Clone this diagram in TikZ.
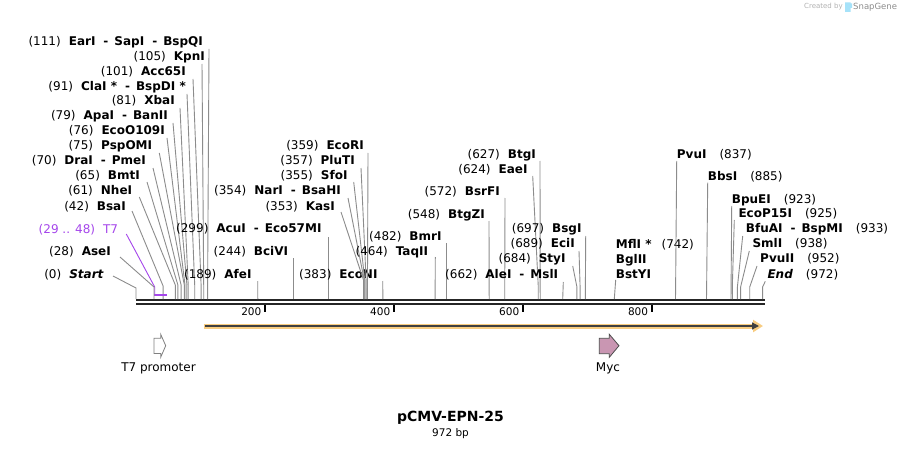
\documentclass[tikz,border=0pt]{standalone}
\usepackage{fontspec}
\setmainfont{DejaVu Sans}
\usetikzlibrary{arrows.meta}
\definecolor{leadgray}{RGB}{140,140,140}
\definecolor{tsevenpurple}{RGB}{165,70,235}
\definecolor{bandorange}{RGB}{248,204,128}
\definecolor{mycpink}{RGB}{201,150,178}
\newcommand{\dsh}{\hspace{8pt}-\hspace{6pt}}

\begin{document}
\begin{tikzpicture}[x=1pt, y=-1pt, enz/.style={inner sep=0pt, font=\fontsize{12}{15}\selectfont}, cut/.style={leadgray, line width=0.9pt, line join=round}]
	\useasboundingbox (0,0) rectangle (901,449);
	\fill[white] (0,0) rectangle (901,449);
	\node[anchor=west, inner sep=0pt, font=\fontsize{7}{8}\selectfont, black!30] (created) at (804,7) {Created by};
	\fill[cyan!35] (845,2.5) rectangle (850.5,12) (850.5,3.5) rectangle (852,8);
	\node[anchor=west, inner sep=0pt, font=\fontsize{8.5}{10}\selectfont, black!45] (snapgene) at (853,7) {SnapGene};
	\draw[line width=2pt, black!85] (136,300) -- (765,300);
	\draw[line width=2pt, black!85] (136,304) -- (765,304);
	\draw[line width=2pt] (264.9,305) -- (264.9,312);
	\node[anchor=east, inner sep=0pt, font=\fontsize{10.5}{12}\selectfont] (tick200) at (261.5,312) {200};
	\draw[line width=2pt] (393.8,305) -- (393.8,312);
	\node[anchor=east, inner sep=0pt, font=\fontsize{10.5}{12}\selectfont] (tick400) at (390.4,312) {400};
	\draw[line width=2pt] (522.8,305) -- (522.8,312);
	\node[anchor=east, inner sep=0pt, font=\fontsize{10.5}{12}\selectfont] (tick600) at (519.4,312) {600};
	\draw[line width=2pt] (651.7,305) -- (651.7,312);
	\node[anchor=east, inner sep=0pt, font=\fontsize{10.5}{12}\selectfont] (tick800) at (648.3,312) {800};
	\draw[bandorange, line width=5pt, -{Triangle[length=10pt,width=12pt]}] (204,326) -- (763,326);
	\draw[black!75, line width=1.3pt, -{Triangle[length=7pt,width=7pt]}] (205,326) -- (759,326);
	\draw[gray, fill=white, line width=0.8pt] (154,338.3) -- (160.7,338.3) -- (160.7,334.3) -- (165.7,345.7) -- (160.7,357.3) -- (160.7,353.5) -- (154,353.5) -- cycle;
	\node[font=\fontsize{12}{14}\selectfont] (t7prom) at (158.5,368) {T7 promoter};
	\draw[black!70, fill=mycpink, line width=0.8pt] (599.3,338.3) -- (609.3,338.3) -- (609.3,334.3) -- (619,345.7) -- (609.3,357.3) -- (609.3,353.7) -- (599.3,353.7) -- cycle;
	\node[font=\fontsize{12}{14}\selectfont] (myc) at (608,368) {Myc};
	\node[enz, anchor=east] (ear) at (203,42) {(111)\hspace{8pt}\textbf{EarI\dsh SapI\dsh BspQI}};
	\draw[cut] ([shift={(6,7)}]ear.east) -- (207.6,285) -- (207.6,299);
	\node[enz, anchor=east] (kpn) at (205,57) {(105)\hspace{8pt}\textbf{KpnI}};
	\draw[cut] ([shift={(-3,7)}]kpn.east) -- (203.7,285) -- (203.7,299);
	\node[enz, anchor=east] (acc) at (186,72) {(101)\hspace{8pt}\textbf{Acc65I}};
	\draw[cut] ([shift={(7,7)}]acc.east) -- (201.1,285) -- (201.1,299);
	\node[enz, anchor=east] (cla) at (186,87) {(91)\hspace{8pt}\textbf{ClaI *\dsh BspDI *}};
	\draw[cut] ([shift={(1,7)}]cla.east) -- (194.7,285) -- (194.7,299);
	\node[enz, anchor=east] (xba) at (175,101) {(81)\hspace{8pt}\textbf{XbaI}};
	\draw[cut] ([shift={(5,7)}]xba.east) -- (188.2,285) -- (188.2,299);
	\node[enz, anchor=east] (apa) at (168,116) {(79)\hspace{8pt}\textbf{ApaI\dsh BanII}};
	\draw[cut] ([shift={(5,7)}]apa.east) -- (186.9,285) -- (186.9,299);
	\node[enz, anchor=east] (ecoo) at (165,131) {(76)\hspace{8pt}\textbf{EcoO109I}};
	\draw[cut] ([shift={(2,7)}]ecoo.east) -- (185,285) -- (185,299);
	\node[enz, anchor=east] (psp) at (152.3,146) {(75)\hspace{8pt}\textbf{PspOMI}};
	\draw[cut] ([shift={(7,7)}]psp.east) -- (184.3,285) -- (184.3,299);
	\node[enz, anchor=east] (dra) at (146,161) {(70)\hspace{8pt}\textbf{DraI\dsh PmeI}};
	\draw[cut] ([shift={(7,7)}]dra.east) -- (181.1,285) -- (181.1,299);
	\node[enz, anchor=east] (bmt) at (140,176) {(65)\hspace{8pt}\textbf{BmtI}};
	\draw[cut] ([shift={(7,6)}]bmt.east) -- (177.9,285) -- (177.9,299);
	\node[enz, anchor=east] (nhe) at (132.3,191) {(61)\hspace{8pt}\textbf{NheI}};
	\draw[cut] ([shift={(7,6)}]nhe.east) -- (175.3,285) -- (175.3,299);
	\node[enz, anchor=east] (bsa) at (126,207) {(42)\hspace{8pt}\textbf{BsaI}};
	\draw[cut] ([shift={(6,4)}]bsa.east) -- (163.1,286) -- (163.1,299);
	\node[enz, anchor=east, tsevenpurple] (tseven) at (118.3,230) {(29 .. 48)\hspace{8pt}T7};
	\draw[tsevenpurple, line width=0.9pt] ([shift={(8,4)}]tseven.east) -- (154.7,287) -- (154.7,295);
	\draw[tsevenpurple, line width=2pt] (153.8,295) -- (166.9,295);
	\node[enz, anchor=east] (ase) at (111,252) {(28)\hspace{8pt}\textbf{AseI}};
	\draw[cut] ([shift={(9,5)}]ase.east) -- (154,287) -- (154,299);
	\node[enz, anchor=east] (st) at (104,275) {(0)\hspace{8pt}\textbf{\textit{Start}}};
	\draw[cut] ([shift={(9,1)}]st.east) -- (136,288) -- (136,299);
	\node[enz, anchor=east] (afe) at (251.7,275) {(189)\hspace{8pt}\textbf{AfeI}};
	\draw[cut] ([shift={(6,6)}]afe.east) -- (257.8,299);
	\node[enz, anchor=east] (bci) at (288.3,252) {(244)\hspace{8pt}\textbf{BciVI}};
	\draw[cut] ([shift={(5,6)}]bci.east) -- (293.3,299);
	\node[enz, anchor=east] (acu) at (321.7,229) {(299)\hspace{8pt}\textbf{AcuI\dsh Eco57MI}};
	\draw[cut] ([shift={(7,8)}]acu.east) -- (328.7,299);
	\node[enz, anchor=east] (econ) at (377.7,275) {(383)\hspace{8pt}\textbf{EcoNI}};
	\draw[cut] ([shift={(5,6)}]econ.east) -- (382.9,299);
	\node[enz, anchor=east] (kas) at (335,207) {(353)\hspace{8pt}\textbf{KasI}};
	\draw[cut] ([shift={(6,5)}]kas.east) -- (363.5,280) -- (363.5,299);
	\node[enz, anchor=east] (nar) at (341,191) {(354)\hspace{8pt}\textbf{NarI\dsh BsaHI}};
	\draw[cut] ([shift={(7,7)}]nar.east) -- (364.2,280) -- (364.2,299);
	\node[enz, anchor=east] (sfo) at (347.7,176) {(355)\hspace{8pt}\textbf{SfoI}};
	\draw[cut] ([shift={(6,6)}]sfo.east) -- (364.8,280) -- (364.8,299);
	\node[enz, anchor=east] (plu) at (355,161) {(357)\hspace{8pt}\textbf{PluTI}};
	\draw[cut] ([shift={(6,7)}]plu.east) -- (366.1,280) -- (366.1,299);
	\node[enz, anchor=east] (ecori) at (364,146) {(359)\hspace{8pt}\textbf{EcoRI}};
	\draw[cut] ([shift={(4,7)}]ecori.east) -- (367.4,299);
	\node[enz, anchor=east] (taq) at (428.3,252) {(464)\hspace{8pt}\textbf{TaqII}};
	\draw[cut] ([shift={(7,5)}]taq.east) -- (435.1,299);
	\node[enz, anchor=east] (bmr) at (441.7,237) {(482)\hspace{8pt}\textbf{BmrI}};
	\draw[cut] ([shift={(5,6)}]bmr.east) -- (446.7,299);
	\node[enz, anchor=east] (btgz) at (485,215) {(548)\hspace{8pt}\textbf{BtgZI}};
	\draw[cut] ([shift={(4,6)}]btgz.east) -- (489.2,299);
	\node[enz, anchor=east] (bsrf) at (500,192) {(572)\hspace{8pt}\textbf{BsrFI}};
	\draw[cut] ([shift={(5,6)}]bsrf.east) -- (504.7,299);
	\node[enz, anchor=east] (eae) at (527.7,170) {(624)\hspace{8pt}\textbf{EaeI}};
	\draw[cut] ([shift={(5,6)}]eae.east) -- (538.2,285) -- (538.2,299);
	\node[enz, anchor=east] (btg) at (536,155) {(627)\hspace{8pt}\textbf{BtgI}};
	\draw[cut] ([shift={(4,6)}]btg.east) -- (540.2,299);
	\node[enz, anchor=east] (ale) at (558.3,275) {(662)\hspace{8pt}\textbf{AleI\dsh MslI}};
	\draw[cut] ([shift={(5,7)}]ale.east) -- (562.7,299);
	\node[enz, anchor=east] (sty) at (565.7,259) {(684)\hspace{8pt}\textbf{StyI}};
	\draw[cut] ([shift={(7,7)}]sty.east) -- (576.9,287) -- (576.9,299);
	\node[enz, anchor=east] (eci) at (575,244) {(689)\hspace{8pt}\textbf{EciI}};
	\draw[cut] ([shift={(4,7)}]eci.east) -- (580.1,287) -- (580.1,299);
	\node[enz, anchor=east] (bsg) at (581.7,229) {(697)\hspace{8pt}\textbf{BsgI}};
	\draw[cut] ([shift={(4,7)}]bsg.east) -- (585.3,299);
	\node[enz, anchor=west, align=left] (mfl) at (615.7,259) {\textbf{MflI *}\hspace{10pt}(742)\\\textbf{BglII}\\\textbf{BstYI}};
	\draw[cut] ([shift={(0,1)}]mfl.south west) -- (614.3,299);
	\node[enz, anchor=west] (pvu) at (676.7,155) {\textbf{PvuI}\hspace{13pt}(837)};
	\draw[cut] ([shift={(0,6)}]pvu.west) -- (675.5,299);
	\node[enz, anchor=west] (bbs) at (707.7,176.7) {\textbf{BbsI}\hspace{13pt}(885)};
	\draw[cut] ([shift={(0,6)}]bbs.west) -- (706.5,299);
	\node[enz, anchor=west] (bpue) at (731.7,200) {\textbf{BpuEI}\hspace{13pt}(923)};
	\draw[cut] ([shift={(0,6)}]bpue.west) -- (731,299);
	\node[enz, anchor=west] (ecop) at (738.3,214) {\textbf{EcoP15I}\hspace{13pt}(925)};
	\draw[cut] ([shift={(-4,6)}]ecop.west) -- (732.3,287) -- (732.3,299);
	\node[enz, anchor=west] (bfua) at (745.7,229) {\textbf{BfuAI\dsh BspMI}\hspace{13pt}(933)};
	\draw[cut] ([shift={(-3,7)}]bfua.west) -- (737.4,287) -- (737.4,299);
	\node[enz, anchor=west] (sml) at (752.3,244) {\textbf{SmlI}\hspace{13pt}(938)};
	\draw[cut] ([shift={(-3,7)}]sml.west) -- (740.6,287) -- (740.6,299);
	\node[enz, anchor=west] (pvuii) at (760,259) {\textbf{PvuII}\hspace{13pt}(952)};
	\draw[cut] ([shift={(-3,7)}]pvuii.west) -- (749.7,287) -- (749.7,299);
	\node[enz, anchor=west] (en) at (767.3,274.3) {\textbf{\textit{End}}\hspace{13pt}(972)};
	\draw[cut] ([shift={(-2,7)}]en.west) -- (762.6,287) -- (762.6,299);
	\node[font=\fontsize{14}{16}\selectfont\bfseries] (title) at (450.5,418) {pCMV-EPN-25};
	\node[font=\fontsize{10.5}{12}\selectfont] (size) at (450.5,434) {972 bp};
\end{tikzpicture}
\end{document}
